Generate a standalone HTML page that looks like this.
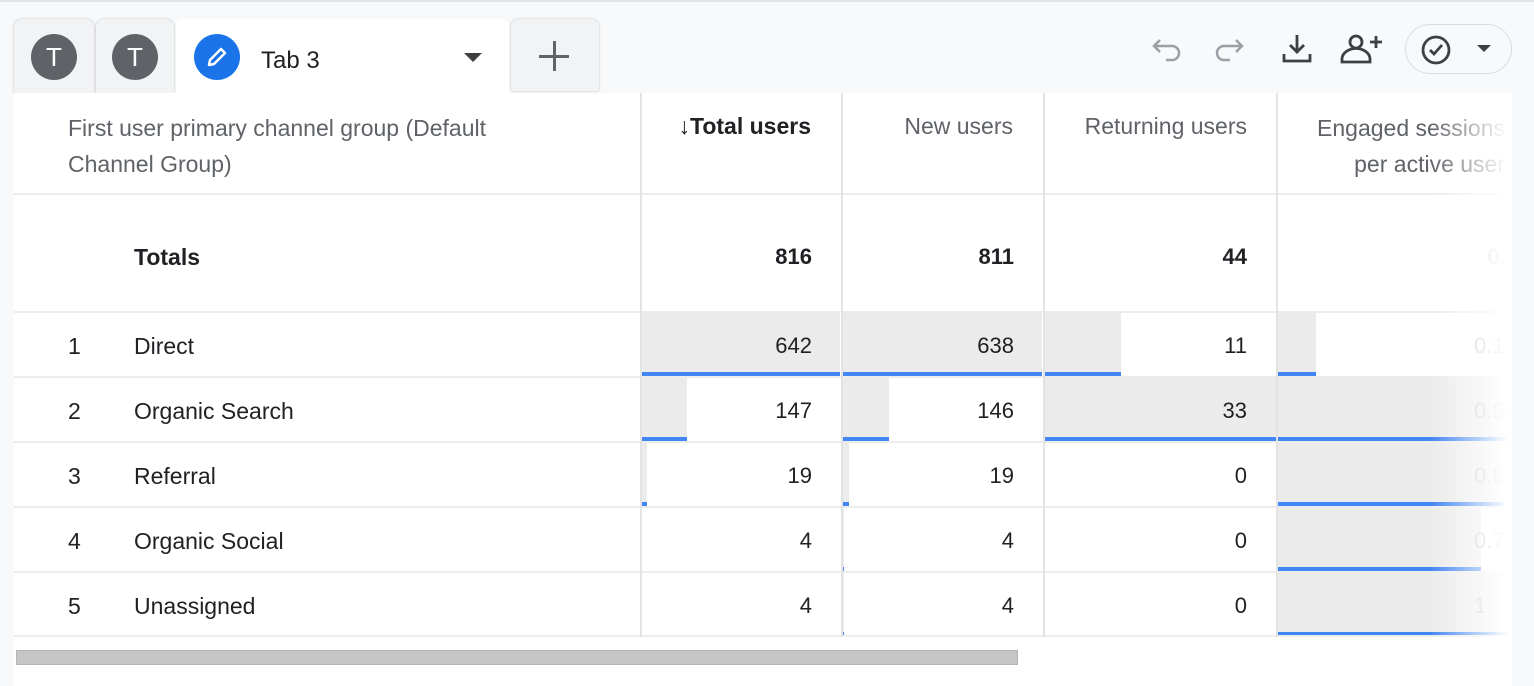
<!DOCTYPE html>
<html><head><meta charset="utf-8"><style>
body{margin:0;width:1534px;height:686px;background:#f8f9fa;font-family:"Liberation Sans",Arial,sans-serif;overflow:hidden;position:relative;color:#202124}
.topline{position:absolute;left:0;top:0;width:1534px;height:2px;background:#e3e5e8}
.tab{position:absolute;top:19px;height:74px;background:#f1f3f4;border-radius:8px 8px 0 0;box-shadow:0 0 2px rgba(0,0,0,.25)}
.av{position:absolute;top:15px;width:46px;height:46px;border-radius:50%;background:#5f6368;color:#fff;font-size:26px;text-align:center;line-height:46px}
.wrap{position:absolute;left:14px;top:93px;width:1498px;height:593px;background:#fff;overflow:hidden}
.cell{position:absolute;box-sizing:border-box;font-size:23px}
.vl{position:absolute;top:0;width:2px;height:544px;background:#e3e3e3}
.hl{position:absolute;left:0;width:1498px;height:2px;background:#ececec}
.num{position:absolute;text-align:right;font-size:22px}
.bar{position:absolute;background:#ebebeb}
.blue{position:absolute;height:4px;background:#4285f4}
.icon{position:absolute;top:32px;color:#5f6368}
</style></head><body>
<div class="topline"></div>
<div class="tab" style="left:14px;width:80px"><div class="av" style="left:17px">T</div></div>
<div class="tab" style="left:96px;width:78px"><div class="av" style="left:16px">T</div></div>
<div class="tab" style="left:176px;width:333px;background:#fff;box-shadow:none">
 <div class="av" style="left:18px;background:#1a73e8"><svg width="46" height="46"><path d="M15 31 L16 26 L27 15 L31 19 L20 30 Z" fill="none" stroke="#fff" stroke-width="2.5" stroke-linejoin="round"/></svg></div>
 <div style="position:absolute;left:85px;top:28px;font-size:24px">Tab 3</div>
 <div style="position:absolute;left:288px;top:34px;width:0;height:0;border-left:9px solid transparent;border-right:9px solid transparent;border-top:9px solid #3c4043"></div>
</div>
<div class="tab" style="left:511px;width:88px;height:72px">
 <div style="position:absolute;left:28px;top:36px;width:30px;height:3px;background:#5f6368"></div>
 <div style="position:absolute;left:42px;top:22px;width:3px;height:30px;background:#5f6368"></div></div>
<svg class="icon" style="left:1150px" width="36" height="30"><path d="M10 8 L4 14 L10 20 M4 14 H22 a7 7 0 0 1 0 14 H16" fill="none" stroke="#9aa0a6" stroke-width="2.5"/></svg>
<svg class="icon" style="left:1214px" width="36" height="30"><path d="M22 8 L28 14 L22 20 M28 14 H10 a7 7 0 0 0 0 14 H16" fill="none" stroke="#9aa0a6" stroke-width="2.5"/></svg>
<svg class="icon" style="left:1280px" width="36" height="34"><path d="M17 3 V20 M10 13 L17 20 L24 13 M4 22 V29 H30 V22" fill="none" stroke="#3c4043" stroke-width="2.8"/></svg>
<svg class="icon" style="left:1338px" width="50" height="34"><circle cx="18" cy="10" r="6" fill="none" stroke="#3c4043" stroke-width="2.8"/><path d="M4 30 v-3 a8 6 0 0 1 28 0 v3 Z" fill="none" stroke="#3c4043" stroke-width="2.8"/><path d="M38 4 v12 M32 10 h12" stroke="#3c4043" stroke-width="2.8"/></svg>
<div style="position:absolute;left:1405px;top:24px;width:105px;height:48px;border:1.5px solid #dadce0;border-radius:25px;background:#f8f9fa">
 <svg style="position:absolute;left:14px;top:9px" width="32" height="32"><circle cx="16" cy="16" r="13" fill="none" stroke="#3c4043" stroke-width="2.8"/><path d="M10 16 L14 20 L22 11" fill="none" stroke="#3c4043" stroke-width="2.8"/></svg>
 <div style="position:absolute;left:71px;top:20px;border-left:7px solid transparent;border-right:7px solid transparent;border-top:7px solid #3c4043"></div></div>

<div class="wrap" id="tbl">
 <div class="cell" style="left:54px;top:17px;color:#5f6368;line-height:36px;width:480px">First user primary channel group (Default<br>Channel Group)</div>
 <div class="cell" style="left:626px;top:20px;width:171px;text-align:right;font-weight:bold">↓Total users</div>
 <div class="cell" style="left:828px;top:20px;width:171px;text-align:right;color:#5f6368">New users</div>
 <div class="cell" style="left:1030px;top:20px;width:203px;text-align:right;color:#5f6368">Returning users</div>
 <div class="cell" style="left:1191px;top:17px;width:300px;color:#5f6368;line-height:36px;text-align:right">Engaged sessions<br>per active user</div>
 <div class="cell" style="left:120px;top:151px;font-weight:bold">Totals</div>
</div>
<div style="position:absolute;left:1430px;top:93px;width:82px;height:545px;background:linear-gradient(to right,rgba(255,255,255,0),#fff 95%)"></div>
<div style="position:absolute;left:16px;top:650px;width:1002px;height:15px;background:#c6c6c6;border:1px solid #b5b5b5;box-sizing:border-box"></div>
<script>
const channels=["Direct","Organic Search","Referral","Organic Social","Unassigned"];
const totalUsers=[642,147,19,4,4];
const newUsers=[638,146,19,4,4];
const returningUsers=[11,33,0,0,0];
const engaged=[0.14,0.96,0.84,0.75,1.0];
const engagedLabels=["0.14","0.96","0.84","0.75","1"];
const totals=["816","811","44","0.3"];
const T=document.getElementById('tbl');
const cols=[{x:627,w:200},{x:829,w:200},{x:1030,w:233},{x:1264,w:270}];
const rowTop=[220,285,350,415,480],rowH=65;
const series=[totalUsers,newUsers,returningUsers,engaged];
function mk(cls,st){const d=document.createElement('div');d.className=cls;Object.assign(d.style,st);T.appendChild(d);return d;}
series.forEach((s,c)=>{const mx=Math.max(...s);const col=cols[c];
 s.forEach((v,r)=>{const bw=c==3?v*270:v/mx*(col.w-1);
  const b=mk('bar',{left:col.x+'px',top:rowTop[r]+'px',width:bw+'px',height:(rowH-2)+'px'});
  
  
  const bl=mk('blue',{left:col.x+'px',top:(rowTop[r]+rowH-6)+'px',width:bw+'px'});
  
  
 });});
[100,220,285,350,415,480,544].forEach(y=>{const h=mk('hl',{top:(y==100?100:y-2)+'px'});
 
 });
[626,827,1029,1262].forEach(x=>{const v=mk('vl',{left:x+'px'});
 
 });
totals.forEach((t,c)=>{const n=mk('num',{left:(c==3?1264:cols[c].x)+'px',top:'151px',width:(c==3?240:(c==2?203:171))+'px',fontWeight:'bold',color:c==3?'#ccc':'#202124'});n.textContent=t;
 
 });
channels.forEach((ch,r)=>{const y=rowTop[r]+20;
 const i=mk('cell',{left:'54px',top:y+'px'});i.textContent=r+1;
 
 
 const l=mk('cell',{left:'120px',top:y+'px'});l.textContent=ch;
 
 
 [totalUsers,newUsers,returningUsers].forEach((s,c)=>{const n=mk('num',{left:cols[c].x+'px',top:y+'px',width:(c==2?203:171)+'px'});n.textContent=s[r];
  
  });
 const e=mk('num',{left:'1264px',top:y+'px',width:'240px',color:'#c4c4c4',textAlign:'left',paddingLeft:'196px'});e.textContent=engagedLabels[r];
 
 
});
</script>
</body></html>
